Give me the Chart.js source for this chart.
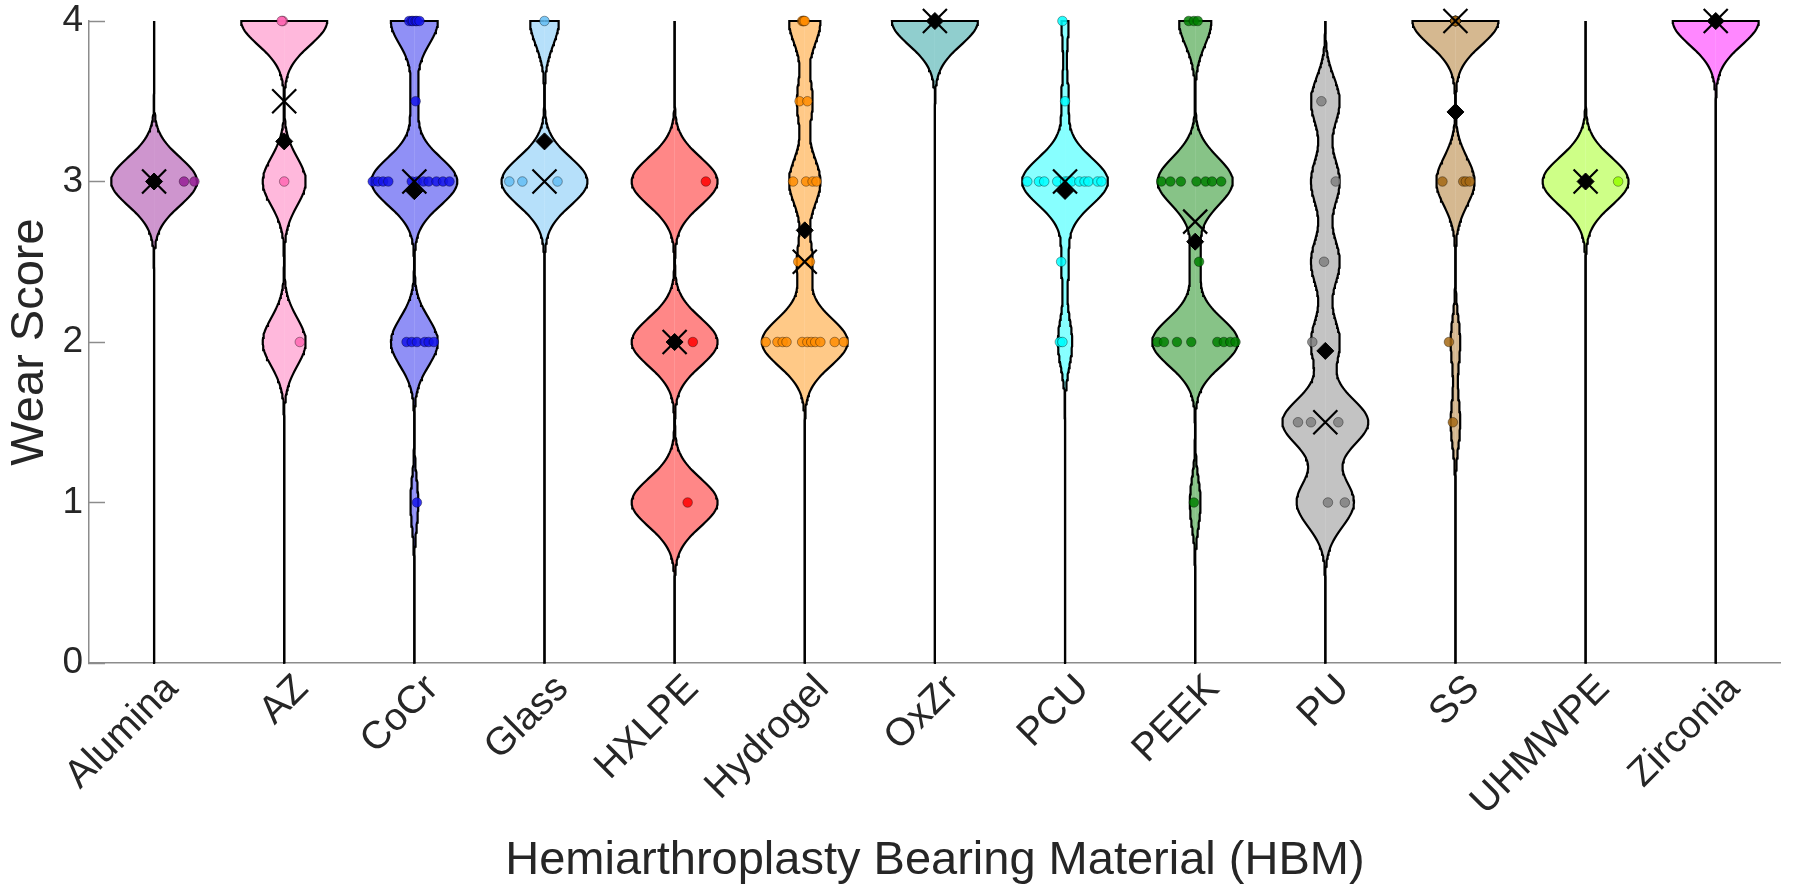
<!DOCTYPE html>
<html>
<head>
<meta charset="utf-8">
<script src="https://cdn.jsdelivr.net/npm/chart.js@4.4.1/dist/chart.umd.min.js"></script>
<style>
  html, body { margin: 0; padding: 0; background: #ffffff; }
  #wrap { width: 1800px; height: 895px; }
</style>
</head>
<body>
<div id="wrap"><canvas id="c" width="1800" height="895"></canvas></div>
<script>
// ---------------- DATA ----------------
const categories = ['Alumina', 'AZ', 'CoCr', 'Glass', 'HXLPE', 'Hydrogel', 'OxZr',
                    'PCU', 'PEEK', 'PU', 'SS', 'UHMWPE', 'Zirconia'];
const yTicks = [0, 1, 2, 3, 4];

// wear scores per material
const aluminaScores  = [3, 3, 3];
const azScores       = [4, 4, 3, 2];
const cocrScores     = [4, 4, 4, 4, 4, 4, 3.5, 3, 3, 3, 3, 3, 3, 3, 3, 3, 3, 3, 2, 2, 2, 2, 2, 2, 1];
const glassScores    = [4, 3, 3, 3];
const hxlpeScores    = [3, 2, 1];
const hydrogelScores = [4, 4, 4, 4, 3.5, 3.5, 3, 3, 3, 3, 2.5, 2.5, 2, 2, 2, 2, 2, 2, 2, 2, 2, 2, 2];
const oxzrScores     = [4, 4, 4];
const pcuScores      = [4, 3.5, 3, 3, 3, 3, 3, 3, 3, 3, 3, 3, 3, 3, 2.5, 2, 2];
const peekScores     = [4, 4, 4, 3, 3, 3, 3, 3, 3, 3, 2.5, 2, 2, 2, 2, 2, 2, 2, 2, 1];
const puScores       = [3.5, 3, 2.5, 2, 1.5, 1.5, 1.5, 1, 1];
const ssScores       = [4, 4, 4, 4, 4, 4, 4, 4, 4, 3, 3, 3, 3, 2, 1.5];
const uhmwpeScores   = [3, 3];
const zirconiaScores = [4, 4];

// horizontal scatter jitter of each point (category units)
const aluminaJitter  = [0.00, 0.23, 0.31];
const azJitter       = [-0.01, -0.02, 0.00, 0.12];
const cocrJitter     = [-0.04, -0.02, -0.01, 0.01, 0.02, 0.04, 0.01,
                        -0.32, -0.28, -0.24, -0.20, -0.02, 0.02, 0.07, 0.11, 0.17, 0.22, 0.27,
                        -0.06, -0.02, 0.02, 0.08, 0.11, 0.15, 0.02];
const glassJitter    = [0.00, -0.27, -0.17, 0.10];
const hxlpeJitter    = [0.24, 0.14, 0.10];
const hydrogelJitter = [-0.02, -0.01, -0.01, 0.00, -0.04, 0.02, -0.09, 0.01, 0.06, 0.09, -0.05, 0.04,
                        -0.30, -0.21, -0.17, -0.14, -0.02, 0.02, 0.05, 0.08, 0.12, 0.23, 0.30];
const oxzrJitter     = [0.00, 0.00, 0.00];
const pcuJitter      = [-0.02, 0.00, -0.29, -0.20, -0.16, -0.06, 0.00, 0.02, 0.05, 0.11, 0.15, 0.18, 0.25, 0.28,
                        -0.03, -0.04, -0.02];
const peekJitter     = [-0.05, -0.01, 0.02, -0.26, -0.19, -0.11, 0.01, 0.08, 0.13, 0.20, 0.03,
                        -0.29, -0.24, -0.14, -0.03, 0.17, 0.22, 0.27, 0.31, -0.01];
const puJitter       = [-0.03, 0.08, -0.01, -0.10, -0.21, -0.11, 0.10, 0.02, 0.15];
const ssJitter       = [0, 0, 0, 0, 0, 0, 0, 0, 0, -0.10, 0.06, 0.08, 0.11, -0.05, -0.02];
const uhmwpeJitter   = [0.00, 0.25];
const zirconiaJitter = [0.00, 0.00];

const allScores = [aluminaScores, azScores, cocrScores, glassScores, hxlpeScores, hydrogelScores,
                   oxzrScores, pcuScores, peekScores, puScores, ssScores, uhmwpeScores, zirconiaScores];
const allJitter = [aluminaJitter, azJitter, cocrJitter, glassJitter, hxlpeJitter, hydrogelJitter,
                   oxzrJitter, pcuJitter, peekJitter, puJitter, ssJitter, uhmwpeJitter, zirconiaJitter];

// ---------------- STYLE ----------------
const baseColors = ['150,30,150', '255,105,180', '20,20,235', '100,190,245', '255,0,0', '255,140,0',
                    '20,150,150', '0,255,255', '0,128,0', '128,128,128', '165,105,20', '150,255,0', '255,0,255'];
const FONT = "'Liberation Sans', Arial, Helvetica, sans-serif";
const TEXT = '#262626';
const AXIS = '#8c8c8c';
const BANDWIDTH = 0.15;   // kernel density bandwidth (score units)
const HALF_WIDTH = 0.33;  // violin half width (category units)
const GRID_N = 321;

// ---------------- derived ----------------
const yGrid = [];
for (let k = 0; k < GRID_N; k++) yGrid.push(yTicks[0] + (yTicks[yTicks.length - 1] - yTicks[0]) * k / (GRID_N - 1));

function density(vals) {
  return yGrid.map(y => vals.reduce((s, v) => s + Math.exp(-((y - v) * (y - v)) / (2 * BANDWIDTH * BANDWIDTH)), 0));
}
function mean(a) { return a.reduce((s, v) => s + v, 0) / a.length; }
function median(a) {
  const s = a.slice().sort((p, q) => p - q);
  const m = Math.floor(s.length / 2);
  return s.length % 2 ? s[m] : (s[m - 1] + s[m]) / 2;
}

const datasets = [];
const yMin = yTicks[0], yMax = yTicks[yTicks.length - 1];

allScores.forEach((vals, i) => {
  const c = i + 1;
  const d = density(vals);
  const dMax = Math.max(...d);
  const fillCol = 'rgba(' + baseColors[i] + ',0.47)';
  [1, -1].forEach(side => {
    const pts = [{ x: c, y: yMin }];
    yGrid.forEach((y, k) => pts.push({ x: c + side * HALF_WIDTH * d[k] / dMax, y: y }));
    pts.push({ x: c, y: yMax });
    datasets.push({
      type: 'line', indexAxis: 'y', data: pts,
      borderColor: '#000000', borderWidth: 2.2, backgroundColor: fillCol,
      fill: { value: c }, pointRadius: 0, tension: 0, clip: false, order: 10
    });
  });
});

allScores.forEach((vals, i) => {
  const c = i + 1;
  datasets.push({
    type: 'scatter',
    data: vals.map((v, k) => ({ x: c + allJitter[i][k], y: v })),
    backgroundColor: 'rgba(' + baseColors[i] + ',0.85)',
    borderColor: 'rgba(0,0,0,0.45)', borderWidth: 0.8,
    pointRadius: 4.8, clip: false, order: 5
  });
});

datasets.push({
  type: 'scatter',
  data: allScores.map((vals, i) => ({ x: i + 1, y: mean(vals) })),
  pointStyle: 'rectRot', pointRadius: 8.5, backgroundColor: '#000', borderColor: '#000', borderWidth: 1,
  clip: false, order: 1
});
datasets.push({
  type: 'scatter',
  data: allScores.map((vals, i) => ({ x: i + 1, y: median(vals) })),
  pointStyle: 'crossRot', pointRadius: 17, backgroundColor: '#000', borderColor: '#000', borderWidth: 2.2,
  clip: false, order: 0
});

Chart.defaults.font.family = FONT;
Chart.defaults.color = TEXT;

new Chart(document.getElementById('c'), {
  type: 'scatter',
  data: { datasets: datasets },
  options: {
    responsive: false,
    devicePixelRatio: 1,
    animation: false,
    events: [],
    layout: { padding: { top: 21, right: 11, left: 0, bottom: 0 } },
    plugins: { legend: { display: false }, tooltip: { enabled: false } },
    scales: {
      x: {
        type: 'linear', min: 0.5, max: categories.length + 0.5,
        afterBuildTicks: s => { s.ticks = categories.map((_, i) => ({ value: i + 1 })); },
        afterFit: s => { s.height = 232; s.paddingLeft = 0; s.paddingRight = 0; },
        ticks: {
          callback: v => categories[Math.round(v) - 1] || '',
          minRotation: 45, maxRotation: 45, autoSkip: false,
          font: { size: 39, family: FONT }, color: TEXT, padding: 3, labelOffset: 18
        },
        grid: { drawOnChartArea: false, drawTicks: false, color: AXIS },
        border: { color: AXIS, width: 1.5 },
        title: {
          display: true, text: 'Hemiarthroplasty Bearing Material (HBM)', color: TEXT,
          font: { size: 47, family: FONT, lineHeight: 1.1 }, padding: { top: 0, bottom: 8 }
        }
      },
      y: {
        type: 'linear', min: yMin, max: yMax,
        afterBuildTicks: s => { s.ticks = yTicks.map(v => ({ value: v })); },
        afterFit: s => { s.width = 89; s.paddingTop = 0; s.paddingBottom = 0; },
        ticks: { font: { size: 37, family: FONT }, color: TEXT, padding: 22 },
        grid: { drawOnChartArea: false, drawTicks: true, tickLength: -16, tickWidth: 1.5, color: AXIS },
        border: { color: AXIS, width: 1.5 },
        title: {
          display: true, text: 'Wear Score', color: TEXT,
          font: { size: 47, family: FONT, lineHeight: 1.1 }, padding: { top: 4, bottom: 0 }
        }
      }
    }
  }
});
</script>
</body>
</html>
